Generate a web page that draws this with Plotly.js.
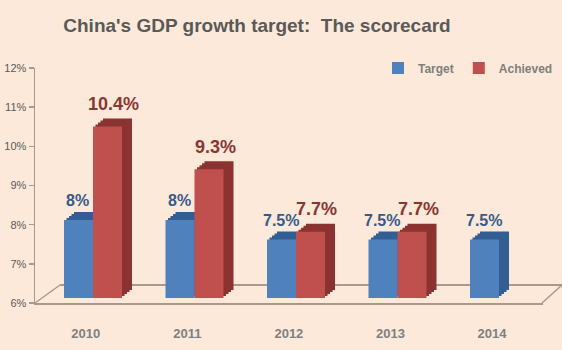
<!DOCTYPE html>
<html>
<head>
<meta charset="utf-8">
<script src="https://cdn.plot.ly/plotly-3.0.1.min.js"></script>
<style>html,body{margin:0;padding:0;background:#fde9d9;}#chart{width:562px;height:350px;}</style>
</head>
<body>
<div id="chart"></div>
<script>
// ---- data ----
var years = ['2010', '2011', '2012', '2013', '2014'];
var target = [8, 8, 7.5, 7.5, 7.5];
var achieved = [10.4, 9.3, 7.7, 7.7, null];
var targetLabels = ['8%', '8%', '7.5%', '7.5%', '7.5%'];
var achievedLabels = ['10.4%', '9.3%', '7.7%', '7.7%', ''];
var yTickVals = [6, 7, 8, 9, 10, 11, 12];
var yTickText = ['6%', '7%', '8%', '9%', '10%', '11%', '12%'];

// ---- styling / geometry ----
var W = 562, H = 350;
var FONT = 'Liberation Sans, Arial, sans-serif';
var BG = '#fde9d9';
var LINE = '#a89a8b';
var colT = '#4f81bd', colTd = '#335e93';
var colA = '#c0504d', colAd = '#8a3331';
function fx(px) { return px / W; }
function fy(py) { return (H - py) / H; }

var frontX = [42.25, 549.75];
var frontY = [298, 64];
var layers = [[10, 8], [7.5, 6], [5, 4], [2.5, 2], [0, 0]];

var traces = [];
var layout = {
  width: W, height: H,
  margin: {l: 0, r: 0, t: 0, b: 0, autoexpand: false},
  paper_bgcolor: BG, plot_bgcolor: 'rgba(0,0,0,0)',
  font: {family: FONT},
  barmode: 'group', bargap: 0.4286, bargroupgap: 0,
  showlegend: true,
  title: {text: "China's GDP growth target:  The scorecard", x: fx(257), xref: 'paper', xanchor: 'center',
          y: fy(25), yref: 'paper', yanchor: 'middle',
          font: {family: FONT, size: 19, color: '#595959', weight: 'bold'}},
  legend: {orientation: 'h', x: fx(558), xanchor: 'right', y: fy(68), yanchor: 'middle',
           bgcolor: 'rgba(0,0,0,0)', itemwidth: 30, traceorder: 'normal',
           font: {family: FONT, size: 12, color: '#7f7f7f', weight: 'bold'}},
  xaxis: {type: 'category', categoryorder: 'array', categoryarray: years, range: [-0.5, 4.5],
          domain: [fx(35), fx(542.75)], anchor: 'y', showline: true, linecolor: LINE, linewidth: 2,
          ticks: '', showgrid: false, zeroline: false, ticklabelstandoff: 17,
          tickfont: {family: FONT, size: 13, color: '#7f7f7f', weight: 'bold'}, fixedrange: true},
  yaxis: {range: [6, 12], domain: [fy(303), fy(68)], anchor: 'x', showline: true, linecolor: LINE, linewidth: 1.5,
          ticks: 'outside', ticklen: 5, tickcolor: LINE, tickwidth: 1.5, tickvals: yTickVals, ticktext: yTickText,
          showgrid: false, zeroline: false, tickfont: {family: FONT, size: 11, color: '#595959'}, fixedrange: true},
  shapes: [
    {type: 'line', xref: 'paper', yref: 'paper', x0: fx(60), y0: fy(285), x1: fx(562), y1: fy(285), line: {color: LINE, width: 2}, layer: 'below'},
    {type: 'line', xref: 'paper', yref: 'paper', x0: fx(35), y0: fy(303), x1: fx(60), y1: fy(285), line: {color: LINE, width: 1.5}, layer: 'below'},
    {type: 'line', xref: 'paper', yref: 'paper', x0: fx(542), y0: fy(303), x1: fx(562), y1: fy(285), line: {color: LINE, width: 1.5}, layer: 'below'}
  ],
  annotations: []
};

traces.push({type: 'scatter', x: years, y: target, mode: 'markers', marker: {opacity: 0},
             xaxis: 'x', yaxis: 'y', showlegend: false, hoverinfo: 'skip'});

layers.forEach(function (off, i) {
  var n = i + 2;
  var isFront = (i === layers.length - 1);
  layout['xaxis' + n] = {type: 'category', categoryorder: 'array', categoryarray: years, range: [-0.5, 4.5],
                domain: [fx(frontX[0] + off[0]), fx(frontX[1] + off[0])], anchor: 'y' + n,
                visible: false, fixedrange: true};
  layout['yaxis' + n] = {range: [6, 12], domain: [fy(frontY[0] - off[1]), fy(frontY[1] - off[1])], anchor: 'x' + n,
                visible: false, fixedrange: true};
  traces.push({type: 'bar', name: 'Target', x: years, y: target.map(function (v) { return v - 6; }), base: 6,
               marker: {color: isFront ? colT : colTd, line: {width: 0}},
               xaxis: 'x' + n, yaxis: 'y' + n, showlegend: isFront, hoverinfo: 'skip', legendgroup: 'T'});
  traces.push({type: 'bar', name: 'Achieved', x: years, y: achieved.map(function (v) { return v === null ? null : v - 6; }), base: 6,
               marker: {color: isFront ? colA : colAd, line: {width: 0}},
               xaxis: 'x' + n, yaxis: 'y' + n, showlegend: isFront, hoverinfo: 'skip', legendgroup: 'A'});
});

// value labels, placed through the visible axes (category index positions)
years.forEach(function (yr, i) {
  layout.annotations.push({xref: 'x', yref: 'y', x: i, y: target[i], text: targetLabels[i],
    showarrow: false, xanchor: 'center', yanchor: 'middle', xshift: -8, yshift: 24,
    font: {family: FONT, size: 16, color: '#355a8c', weight: 'bold'}});
  if (achieved[i] !== null) {
    layout.annotations.push({xref: 'x', yref: 'y', x: i, y: achieved[i], text: achievedLabels[i],
      showarrow: false, xanchor: 'center', yanchor: 'middle', xshift: 28, yshift: 27,
      font: {family: FONT, size: 18, color: '#8c3634', weight: 'bold'}});
  }
});

Plotly.newPlot('chart', traces, layout, {staticPlot: true, displayModeBar: false});
</script>
</body>
</html>
